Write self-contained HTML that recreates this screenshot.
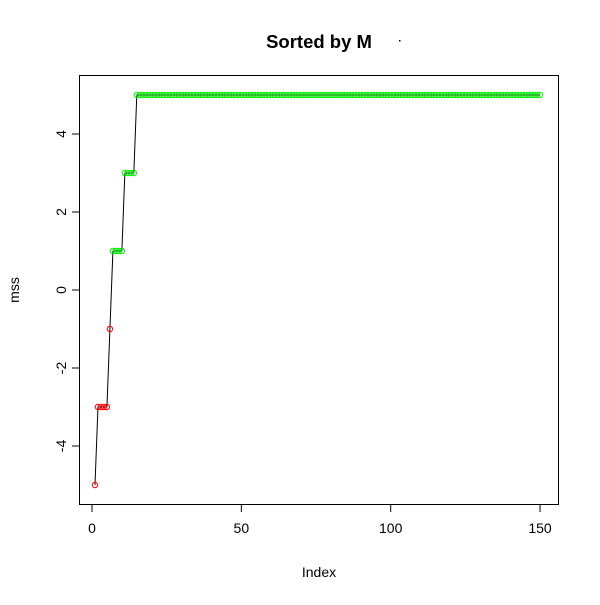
<!DOCTYPE html>
<html><head><meta charset="utf-8"><style>body{margin:0;background:#fff}svg text{font-family:"Liberation Sans",Arial,sans-serif}</style></head>
<body>
<svg id="c" width="600" height="600" xmlns="http://www.w3.org/2000/svg">
<rect width="600" height="600" fill="#fff"/>
<text x="319" y="48" font-size="18.5" font-weight="bold" text-anchor="middle">Sorted by M</text>
<rect x="399" y="40" width="1.5" height="1.5" fill="#000"/>
<rect x="79.5" y="75.5" width="479" height="429" fill="none" stroke="#000"/>
<text x="319" y="577" font-size="14" text-anchor="middle">Index</text>
<text transform="translate(19,290) rotate(-90)" font-size="14" text-anchor="middle">mss</text>
<g id="ax"></g><g id="marks"></g>
</svg>
<script>
const levels=[-5,-3,-1,1,3,5];
const counts=[1,4,1,4,4,136];
const xTicks=[0,50,100,150];
const yTicks=[-4,-2,0,2,4];
const NS="http://www.w3.org/2000/svg";
const X=v=>92+v*2.987, Y=v=>290-v*39;
function mk(t,a,p){const e=document.createElementNS(NS,t);for(const k in a)e.setAttribute(k,a[k]);p.appendChild(e);return e;}
const ax=document.getElementById('ax'), m=document.getElementById('marks');
xTicks.forEach(t=>{const l=mk('line',{x1:X(t),x2:X(t),y1:505,y2:512,stroke:'#000'},ax);

const s=mk('text',{x:X(t),y:533,'font-size':14,'text-anchor':'middle'},ax);s.textContent=t;
});
yTicks.forEach(t=>{const l=mk('line',{x1:72,x2:79,y1:Y(t),y2:Y(t),stroke:'#000'},ax);

const s=mk('text',{transform:`translate(66,${Y(t)}) rotate(-90)`,'font-size':14,'text-anchor':'middle'},ax);s.textContent=t;
});
const vals=[];levels.forEach((l,i)=>{for(let k=0;k<counts[i];k++)vals.push(l);});
const pts=vals.map((v,i)=>X(i+1)+','+Y(v)).join(' ');
const pl=mk('polyline',{points:pts,fill:'none',stroke:'#000','stroke-width':1},m);

vals.forEach((v,i)=>{const c=mk('circle',{cx:X(i+1),cy:Y(v),r:2.7,fill:'none',stroke:v<0?'#ff0000':'#00ee00','stroke-width':1},m);
});
</script>
</body></html>
